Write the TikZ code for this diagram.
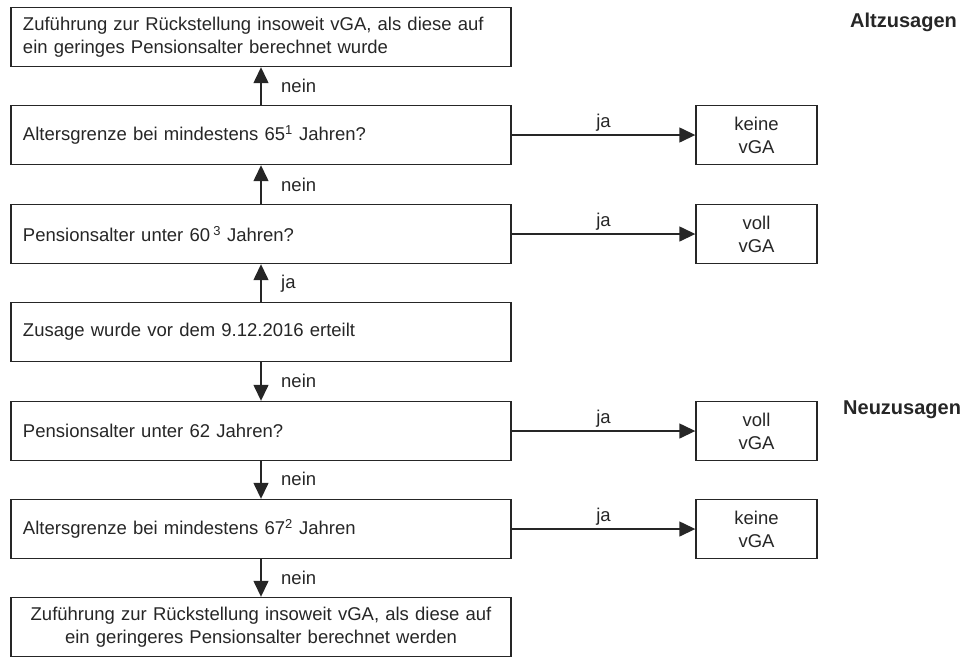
\documentclass[tikz,border=0pt]{standalone}
\usepackage{fontspec}
\setmainfont{Liberation Sans}
\usetikzlibrary{arrows.meta}
\begin{document}
\begin{tikzpicture}[x=1pt,y=-1pt,
  every node/.style={font=\fontsize{18.5}{23}\selectfont, text=black!85},
  mainbox/.style={draw=black!85, line width=1.4pt, minimum height=59pt, text width=476pt, inner xsep=12pt, align=left},
  mainboxc/.style={mainbox, align=center},
  resbox/.style={draw=black!85, line width=1.4pt, minimum height=59pt, minimum width=121pt, inner sep=2pt, align=center},
  flow/.style={draw=black!85, line width=1.4pt, -{Triangle[length=16pt,width=15pt]}},
  lbl/.style={anchor=west, inner sep=0pt},
  jalbl/.style={anchor=south, inner sep=3pt},
  head/.style={font=\fontsize{20}{24}\selectfont\bfseries, anchor=west, inner sep=0pt}
]
\path[use as bounding box] (0,0) rectangle (971,657);

\node[mainbox]  (b1) at (261,37)  {Zuführung zur Rückstellung insoweit vGA, als diese auf\\ein geringes Pensionsalter berechnet wurde};
\node[mainbox]  (b2) at (261,135) {Altersgrenze bei mindestens 65\textsuperscript{1} Jahren?};
\node[mainbox]  (b3) at (261,234) {Pensionsalter unter 60\,\textsuperscript{3} Jahren?};
\node[mainbox]  (b4) at (261,332) {Zusage wurde vor dem 9.12.2016 erteilt};
\node[mainbox]  (b5) at (261,431) {Pensionsalter unter 62 Jahren?};
\node[mainbox]  (b6) at (261,529) {Altersgrenze bei mindestens 67\textsuperscript{2} Jahren};
\node[mainboxc] (b7) at (261,627) {Zuführung zur Rückstellung insoweit vGA, als diese auf\\ein geringeres Pensionsalter berechnet werden};

\node[resbox] (r2) at (756.5,135) {keine\\vGA};
\node[resbox] (r3) at (756.5,234) {voll\\vGA};
\node[resbox] (r5) at (756.5,431) {voll\\vGA};
\node[resbox] (r6) at (756.5,529) {keine\\vGA};

\node[head] (alt) at (850,22) {Altzusagen};
\node[head] (neu) at (843,410) {Neuzusagen};

\draw[flow] (b2.north) -- (b1.south);
\draw[flow] (b3.north) -- (b2.south);
\draw[flow] (b4.north) -- (b3.south);
\draw[flow] (b4.south) -- (b5.north);
\draw[flow] (b5.south) -- (b6.north);
\draw[flow] (b6.south) -- (b7.north);

\node[lbl] (n1) at (281,86) {nein};
\node[lbl] (n2) at (281,185) {nein};
\node[lbl] (n3) at (281,284) {ja};
\node[lbl] (n4) at (281,381) {nein};
\node[lbl] (n5) at (281,479) {nein};
\node[lbl] (n6) at (281,578) {nein};

\draw[flow] (b2.east) -- node[jalbl] {ja} (r2.west);
\draw[flow] (b3.east) -- node[jalbl] {ja} (r3.west);
\draw[flow] (b5.east) -- node[jalbl] {ja} (r5.west);
\draw[flow] (b6.east) -- node[jalbl] {ja} (r6.west);
\end{tikzpicture}
\end{document}
